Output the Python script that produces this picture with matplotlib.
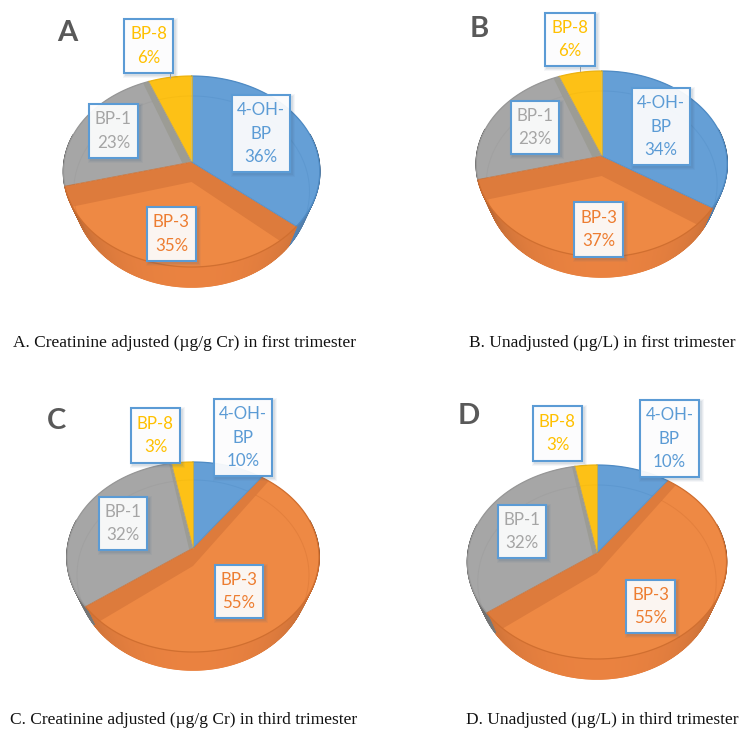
import numpy as np
import matplotlib
matplotlib.use('Agg')
import matplotlib.pyplot as plt
from matplotlib.collections import PolyCollection
from matplotlib.patches import Polygon, Rectangle

compounds = ['4-OH-\nBP', 'BP-3', 'BP-1', 'BP-8']
values_a = [36, 35, 23, 6]
values_b = [34, 37, 23, 6]
values_c = [10, 55, 32, 3]
values_d = [10, 55, 32, 3]
letters = ['A', 'B', 'C', 'D']
captions = [
    'A. Creatinine adjusted (µg/g Cr) in first trimester',
    'B. Unadjusted (µg/L) in first trimester',
    'C. Creatinine adjusted (µg/g Cr) in third trimester',
    'D. Unadjusted (µg/L) in third trimester',
]

FACE = ['#659FD6', '#EE8944', '#A6A6A6', '#FDC116']
BAND = ['#5E98CF', '#DD7B3C', '#9C9C95', '#F5BB18']
RIM = ['#4F8BC4', '#D06F30', '#979797', '#EDB30F']
WALL = ['#5F93C8', '#EA8240', '#8A8A8A', '#E0A810']
TEXT = ['#5B9BD5', '#ED7D31', '#A5A5A5', '#FFC000']
BOX_EDGE = '#5B9BD5'
CAPTION_FONT = 'Liberation Serif'
LABEL_FONT = 'Lato'
BOTTOM_SCALE = 0.92

# apex x, apex y, half width, rise to back rim, drop to front rim, wall depth
pies = [
    (191.6, 162, 127.5, 86, 105, 20),
    (601.7, 156, 125.0, 85, 101, 20),
    (193.0, 548, 125.5, 86, 104, 18),
    (597.0, 553, 129.0, 88, 106, 20),
]
# left, top, right, bottom of the label boxes, same order as compounds
boxes = [
    [(232, 95, 290, 172), (147, 207, 196, 261), (89, 104, 138, 158), (124, 19, 173, 73)],
    [(632, 88, 690, 165), (574, 202, 623, 257), (511, 101, 559, 154), (545, 13, 595, 66)],
    [(214, 399, 272, 476), (215, 565, 263, 618), (99, 497, 147, 550), (131, 408, 180, 463)],
    [(640, 400, 699, 477), (626, 580, 675, 633), (498, 505, 546, 558), (533, 406, 582, 461)],
]
letter_pos = [(67, 33), (479, 29), (56.5, 421), (469, 415.5)]
caption_pos = [(13, 347), (469, 347), (10, 724.5), (466, 724.5)]
leader_x = [170, 580, None, None]


def project(theta, r, pie):
    # perspective view of a disc, theta runs clockwise from 12 o'clock
    cx, cy, half, rise, drop, _ = pie
    k = (drop - rise) / (drop + rise)
    amp = rise * (1 + k)
    x = r * np.sin(theta)
    y = r * np.cos(theta)
    w = 1 + k * y
    return cx + half * x / w, cy - amp * y / w


def lower(px, py, pie):
    # same points on the underside of the pie, slightly narrower
    return pie[0] + BOTTOM_SCALE * (px - pie[0]), py + pie[5]


def wedge_xy(a0, a1, pie, r=1.0):
    th = np.linspace(a0, a1, max(int(np.degrees(a1 - a0)), 2) + 1)
    px, py = project(th, r, pie)
    apex_x, apex_y = project(0.0, 0.0, pie)
    return np.r_[apex_x, px], np.r_[apex_y, py]


def shade(hex_color, f):
    rgb = np.array(matplotlib.colors.to_rgb(hex_color))
    return tuple(np.clip(rgb * f, 0, 1))


def draw_wall(ax, a0, a1, pie, color):
    th = np.linspace(a0, a1, max(int(np.degrees(a1 - a0) * 2), 2) + 1)
    px, py = project(th, 1.0, pie)
    bx, by = lower(px, py, pie)
    polys = []
    cols = []
    for i in range(len(th) - 1):
        front = -np.cos((th[i] + th[i + 1]) / 2)
        if front < -0.3:
            continue
        polys.append([(px[i], py[i]), (px[i + 1], py[i + 1]),
                      (bx[i + 1], by[i + 1]), (bx[i], by[i])])
        cols.append(shade(color, 0.5 + 0.5 * max(front, 0) ** 0.5))
    if polys:
        ax.add_collection(PolyCollection(polys, facecolors=cols, edgecolors=cols,
                                         linewidths=1.1, zorder=2))


def draw_pie(ax, values, pie):
    edges = np.r_[0, np.cumsum(values)] / np.sum(values) * 2 * np.pi
    for i in range(len(values)):
        draw_wall(ax, edges[i], edges[i + 1], pie, WALL[i])
    for i in range(len(values)):
        a0, a1 = edges[i], edges[i + 1]
        top = Polygon(np.column_stack(wedge_xy(a0, a1, pie)), closed=True,
                      facecolor=BAND[i], edgecolor='none', zorder=3)
        ax.add_patch(top)
        # lower copy of the slice, seen through the glassy top
        ix, iy = lower(*wedge_xy(a0, a1, pie, r=1.6), pie)
        inner = Polygon(np.column_stack([ix, iy]), closed=True,
                        facecolor=FACE[i], edgecolor='none', zorder=3.1)
        ax.add_patch(inner)
        inner.set_clip_path(top)
        th = np.linspace(a0, a1, 120)
        px, py = project(th, 1.0, pie)
        bx, by = lower(px, py, pie)
        arc, = ax.plot(bx, by, color=RIM[i], lw=0.7, alpha=0.35, zorder=3.2)
        arc.set_clip_path(top)
        ax.plot(px, py, color=RIM[i], lw=0.9, zorder=3.3)
    # thin seams between neighbouring slices
    for i, a in enumerate(edges[:-1]):
        px, py = project(np.array([0.0, a]), np.array([0.0, 1.0]), pie)
        ax.plot(px, py, color=RIM[i - 1], lw=0.6, alpha=0.8, zorder=3.4)


def draw_label(ax, box, text, color):
    x0, y0, x1, y1 = box
    for grow, alpha in [(3.0, 0.05), (2.0, 0.07), (1.0, 0.09)]:
        ax.add_patch(Rectangle((x0 - grow + 1.5, y0 - grow + 1.5),
                               x1 - x0 + 2 * grow, y1 - y0 + 2 * grow,
                               facecolor='#3F5F80', edgecolor='none', alpha=alpha, zorder=5))
    ax.add_patch(Rectangle((x0, y0), x1 - x0, y1 - y0, facecolor=(1, 1, 1, 0.93),
                           edgecolor=BOX_EDGE, linewidth=1.5, zorder=6))
    ax.text((x0 + x1) / 2, (y0 + y1) / 2, text, color=color, family=LABEL_FONT,
            fontsize=12.2, ha='center', va='center', linespacing=1.6, zorder=7)


fig = plt.figure(figsize=(7.39, 7.29), dpi=100, facecolor='white')
ax = fig.add_axes([0, 0, 1, 1])
ax.set_xlim(0, 739)
ax.set_ylim(729, 0)
ax.axis('off')

for n, values in enumerate([values_a, values_b, values_c, values_d]):
    pie = pies[n]
    draw_pie(ax, values, pie)
    for i, name in enumerate(compounds):
        draw_label(ax, boxes[n][i], f'{name}\n{values[i]}%', TEXT[i])
    # leader from the small slice up to its box
    if leader_x[n] is not None:
        ax.plot([leader_x[n]] * 2, [boxes[n][3][3], boxes[n][3][3] + 5],
                color='#A6A6A6', lw=0.7, zorder=4)
    ax.text(*letter_pos[n], letters[n], family='Lato', fontweight='bold',
            fontsize=21, color='#595959', ha='center', va='center')
    ax.text(*caption_pos[n], captions[n], family=CAPTION_FONT, fontsize=12.5,
            color='#111111', ha='left', va='baseline')

fig.savefig('out.png', dpi=100)
plt.close(fig)
